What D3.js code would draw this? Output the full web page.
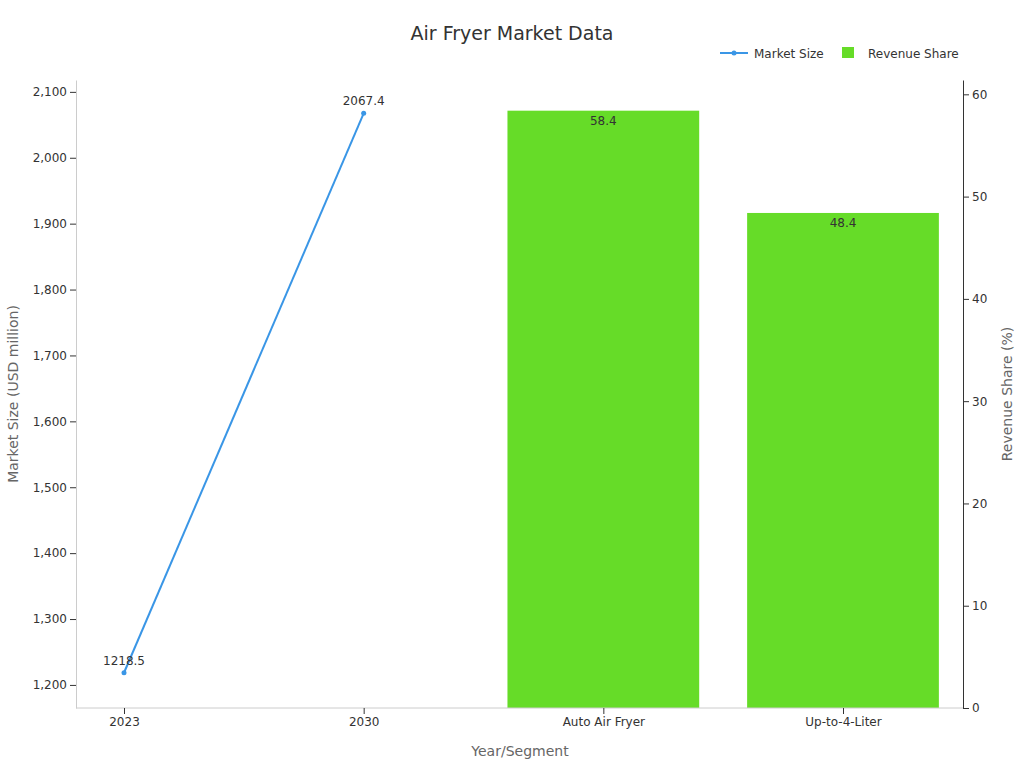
<!DOCTYPE html><html><head><meta charset="utf-8"><script src="https://cdn.jsdelivr.net/npm/d3@7"></script>
<style>body{margin:0;font-family:"DejaVu Sans",sans-serif}</style></head><body><svg id="c" width="1024" height="768"></svg><script>
const categories=["2023","2030","Auto Air Fryer","Up-to-4-Liter"];
const lineCats=["2023","2030"];
const marketSize=[1218.5,2067.4];
const barCats=["Auto Air Fryer","Up-to-4-Liter"];
const revenueShare=[58.4,48.4];
const leftTicks=[1200,1300,1400,1500,1600,1700,1800,1900,2000,2100];
const rightTicks=[0,10,20,30,40,50,60];
const svg=d3.select("#c");
const L=76,R=963,T=80,B=708;
const x=d3.scalePoint().domain(categories).range([124,843]);
const bw=x.step()*0.8;
const yL=d3.scaleLinear().domain([1165,2118]).range([B,T]);
const yR=d3.scaleLinear().domain([0,61.4]).range([B,T]);
const col="#333";
svg.append("text").attr("x",512).attr("y",40).attr("text-anchor","middle").attr("font-size",19).attr("fill",col).text("Air Fryer Market Data");
// bars
barCats.forEach((c,i)=>{
 svg.append("rect").attr("x",x(c)-bw/2).attr("y",yR(revenueShare[i])).attr("width",bw).attr("height",B-yR(revenueShare[i])).attr("fill","#66dc28");
 svg.append("text").attr("x",x(c)).attr("y",yR(revenueShare[i])+14).attr("text-anchor","middle").attr("font-size",12).attr("fill",col).text(revenueShare[i]);
});
const line=d3.line().x((d,i)=>x(lineCats[i])).y(d=>yL(d));
svg.append("path").datum(marketSize).attr("d",line).attr("fill","none").attr("stroke","#3a96e6").attr("stroke-width",2);
marketSize.forEach((v,i)=>{
 svg.append("circle").attr("cx",x(lineCats[i])).attr("cy",yL(v)).attr("r",2.5).attr("fill","#3a96e6");
 svg.append("text").attr("x",x(lineCats[i])).attr("y",yL(v)-8).attr("text-anchor","middle").attr("font-size",12).attr("fill",col).text(v);
});
const st=g=>{g.selectAll("text").attr("font-size",12).attr("fill",col).attr("font-family","DejaVu Sans");g.selectAll("path,line").attr("stroke","#ccc");};
svg.append("g").attr("transform",`translate(${L},0)`).call(d3.axisLeft(yL).tickValues(leftTicks).tickSizeOuter(0)).call(st).call(g=>g.selectAll("line").attr("stroke","#333"));
svg.append("g").attr("transform",`translate(${R},0)`).call(d3.axisRight(yR).tickValues(rightTicks).tickSizeOuter(0)).call(st).call(g=>g.selectAll("path,line").attr("stroke","#333"));
const xa=svg.append("g").attr("transform",`translate(0,${B})`).call(d3.axisBottom(x).tickSizeOuter(0)).call(st).call(g=>g.selectAll("line").attr("stroke","#333"));
xa.select("path").attr("d",`M${L},0H${R}`);
svg.append("text").attr("x",520).attr("y",756).attr("text-anchor","middle").attr("font-size",14).attr("fill","#666").text("Year/Segment");
svg.append("text").attr("transform","translate(18,394) rotate(-90)").attr("text-anchor","middle").attr("font-size",14).attr("fill","#666").text("Market Size (USD million)");
svg.append("text").attr("transform","translate(1012,394) rotate(-90)").attr("text-anchor","middle").attr("font-size",14).attr("fill","#666").text("Revenue Share (%)");
// legend
svg.append("line").attr("x1",720).attr("x2",748).attr("y1",53).attr("y2",53).attr("stroke","#3a96e6").attr("stroke-width",2);
svg.append("circle").attr("cx",734).attr("cy",53).attr("r",2.5).attr("fill","#3a96e6");
svg.append("text").attr("x",754).attr("y",58).attr("font-size",12).attr("fill",col).text("Market Size");
svg.append("rect").attr("x",842).attr("y",47).attr("width",12).attr("height",11).attr("fill","#66dc28");
svg.append("text").attr("x",868).attr("y",58).attr("font-size",12).attr("fill",col).text("Revenue Share");
</script></body></html>
